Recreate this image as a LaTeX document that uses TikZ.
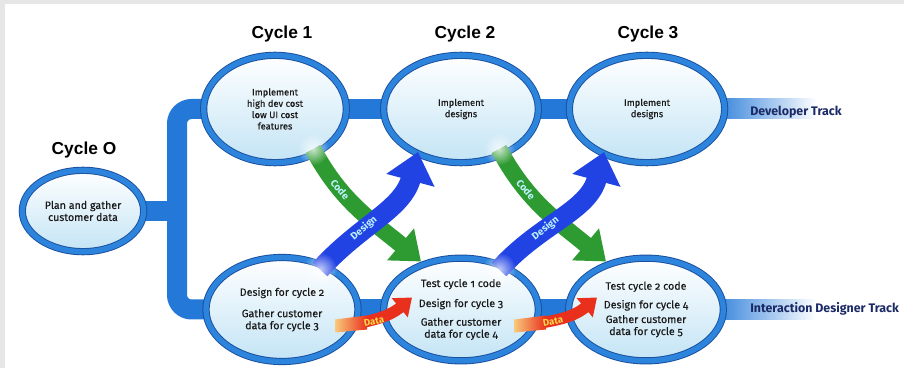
\documentclass[tikz,border=0pt]{standalone}
\usepackage{fontspec}
\setmainfont{Fira Sans}[Numbers=OldStyle]
\newfontfamily\titlefont{Liberation Sans}
\newfontfamily\bodyfont{Fira Sans}[Numbers=OldStyle, FakeBold=0.35]
\usetikzlibrary{shapes.geometric,arrows.meta,fadings}
\tikzfading[name=fuzzydot, inner color=transparent!0, outer color=transparent!100]
\definecolor{framegray}{HTML}{E6E6E6}
\definecolor{ringdark}{HTML}{1B4F9E}
\definecolor{ringblue}{HTML}{2D84DC}
\definecolor{barblue}{HTML}{2378D8}
\definecolor{fillblue}{HTML}{C3E4F5}
\definecolor{designblue}{HTML}{2243E4}
\definecolor{codegreen}{HTML}{2E9B32}
\definecolor{labelcyan}{HTML}{BDF2FF}
\definecolor{trackblue}{HTML}{1B2A66}
\definecolor{datared}{HTML}{E8301C}
\definecolor{dataorange}{HTML}{F5A623}
\definecolor{datayellow}{HTML}{F7D748}
\definecolor{textdark}{HTML}{1A1A1A}
\pgfdeclarelayer{back}
\pgfdeclarelayer{bg}
\pgfsetlayers{back,bg,main}
\begin{document}
\begin{tikzpicture}[x=0.75pt,y=0.75pt,
  cyc/.style={ellipse, draw=ringdark, line width=0.7pt, double=ringblue, double distance=4pt,
    top color=white, bottom color=fillblue, inner sep=0pt, align=center, text=textdark},
  toptext/.style={font=\bodyfont\fontsize{7}{8.5}\selectfont},
  bottext/.style={font=\bodyfont\fontsize{8}{9}\selectfont},
  cyctitle/.style={font=\titlefont\bfseries\fontsize{13}{15}\selectfont, text=black},
  track/.style={font=\bfseries\fontsize{9.3}{11}\selectfont, text=trackblue, anchor=west, inner sep=0pt},
  bar/.style={draw=barblue, line width=15pt},
  codearrow/.style={draw=codegreen, line width=12.5pt, -{Triangle[width=30pt,length=20pt]}},
  designarrow/.style={draw=designblue, line width=15pt, -{Triangle[width=36pt,length=22pt]}},
  dataarrow/.style={draw=datared, line width=8.5pt, -{Triangle[width=18pt,length=12pt]}},
  arrowlabel/.style={font=\bfseries\fontsize{7.5}{8}\selectfont, text=labelcyan, inner sep=0pt},
  datalabel/.style={font=\bfseries\fontsize{7.2}{8}\selectfont, text=datayellow, inner sep=0pt},
  tailfade/.style={fill=white, fill opacity=0.75, path fading=fuzzydot}]
\begin{pgfonlayer}{back}
\fill[framegray] (0,0) rectangle (904,368);
\fill[white] (5,0) rectangle (904,364);
\end{pgfonlayer}
\useasboundingbox (0,0) rectangle (904,368);

% cycle ellipses
\node[cyc, bottext, minimum width=91pt, minimum height=61pt] (c0) at (83,157)
  {Plan and gather\\customer data};
\node[cyc, toptext, minimum width=107pt, minimum height=80.5pt] (c1t) at (275,259)
  {Implement\\high dev cost\\low UI cost\\features};
\node[cyc, toptext, minimum width=116pt, minimum height=80.5pt] (c2t) at (461,259)
  {Implement\\designs};
\node[cyc, toptext, minimum width=116.5pt, minimum height=80.5pt] (c3t) at (647,259)
  {Implement\\designs};
\node[cyc, bottext, minimum width=114pt, minimum height=78pt] (c1b) at (282,58.5)
  {Design for cycle 2\\[7pt]Gather customer\\data for cycle 3};
\node[cyc, bottext, minimum width=116pt, minimum height=77pt] (c2b) at (461,58.5)
  {Test cycle 1 code\\[6pt]Design for cycle 3\\[5pt]Gather customer\\data for cycle 4};
\node[cyc, bottext, minimum width=116pt, minimum height=77pt] (c3b) at (646,58.5)
  {Test cycle 2 code\\[5pt]Design for cycle 4\\[2pt]Gather customer\\data for cycle 5};

% titles
\node[cyctitle] (t0) at (84,218) {Cycle O};
\node[cyctitle] (t1) at (282,334) {Cycle 1};
\node[cyctitle] (t2) at (465,334) {Cycle 2};
\node[cyctitle] (t3) at (648,334) {Cycle 3};

% bars
\begin{pgfonlayer}{bg}
\coordinate (brk) at (177,157);
\draw[bar, rounded corners=11pt] (c1t.center) -| (brk) |- (c1b.center);
\draw[bar] (c0.center) -- (brk);
\draw[bar] (c1t) -- (c2t);
\draw[bar] (c2t) -- (c3t);
\draw[bar] (c1b) -- (c2b);
\draw[bar] (c2b) -- (c3b);
\shade[left color=barblue, middle color=barblue, right color=white]
  ([shift={(60,-10)}]c3t.center) rectangle ([shift={(170,10)}]c3t.center);
\shade[left color=barblue, middle color=barblue, right color=white]
  ([shift={(60,-10)}]c3b.center) rectangle ([shift={(170,10)}]c3b.center);
\end{pgfonlayer}

\node[track] (dev) at (750,256) {Developer Track};
\node[track] (ixd) at (750,59) {Interaction Designer Track};

% code arrows
\draw[codearrow] ([shift={(38,-40)}]c1t.center) to[out=-62,in=140]
  node[pos=0.3, sloped, arrowlabel] (lc1) {Code} ([shift={(-40,48)}]c2b.center);
\draw[codearrow] ([shift={(38,-40)}]c2t.center) to[out=-62,in=140]
  node[pos=0.3, sloped, arrowlabel] (lc2) {Code} ([shift={(-40,48)}]c3b.center);
\fill[tailfade] ([shift={(38,-40)}]c1t.center) circle[radius=16];
\fill[tailfade] ([shift={(38,-40)}]c2t.center) circle[radius=16];

% design arrows
\draw[designarrow] ([shift={(38,40)}]c1b.center) to[out=48,in=-105]
  node[pos=0.37, sloped, arrowlabel] (ld1) {Design} ([shift={(-43,-43)}]c2t.center);
\draw[designarrow] ([shift={(38,40)}]c2b.center) to[out=48,in=-105]
  node[pos=0.37, sloped, arrowlabel] (ld2) {Design} ([shift={(-43,-43)}]c3t.center);
\fill[tailfade] ([shift={(38,40)}]c1b.center) circle[radius=17];
\fill[tailfade] ([shift={(38,40)}]c2b.center) circle[radius=17];

% data arrows
\draw[dataarrow] ([shift={(55,-17)}]c1b.center) to[out=8,in=-140]
  ([shift={(-49,12)}]c2b.center);
\shade[left color=dataorange!60!white, right color=datared]
  ([shift={(53,-23)}]c1b.center) -- ([shift={(85,-20)}]c1b.center) -- ([shift={(85,-6)}]c1b.center) -- ([shift={(53,-10)}]c1b.center) -- cycle;
\node[datalabel, rotate=10] (ldt1) at ([shift={(92,-12)}]c1b.center) {Data};
\draw[dataarrow] ([shift={(55,-17)}]c2b.center) to[out=8,in=-140]
  ([shift={(-49,12)}]c3b.center);
\shade[left color=dataorange!60!white, right color=datared]
  ([shift={(53,-23)}]c2b.center) -- ([shift={(85,-20)}]c2b.center) -- ([shift={(85,-6)}]c2b.center) -- ([shift={(53,-10)}]c2b.center) -- cycle;
\node[datalabel, rotate=10] (ldt2) at ([shift={(92,-12)}]c2b.center) {Data};
\end{tikzpicture}
\end{document}
